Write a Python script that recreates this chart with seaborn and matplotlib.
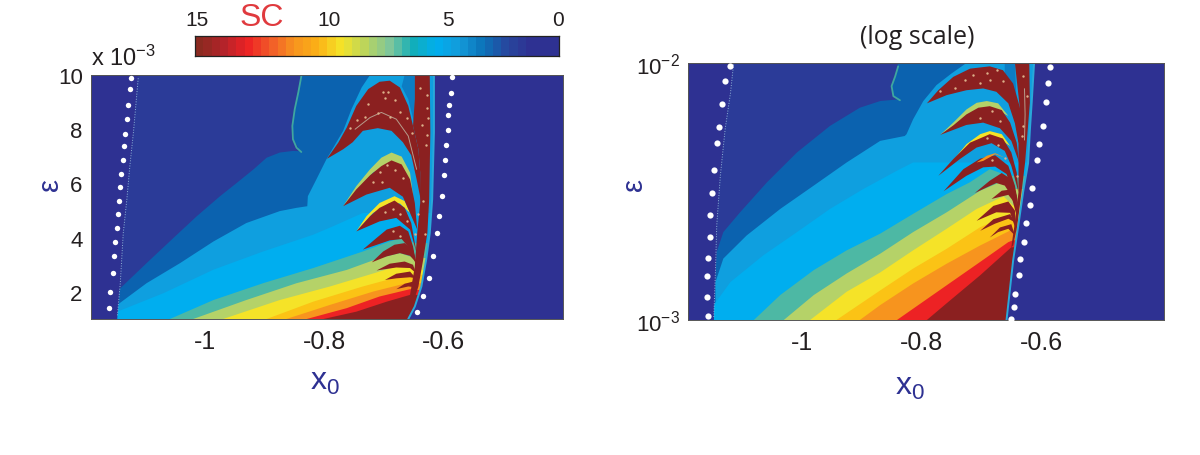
import matplotlib

matplotlib.use("Agg")
import matplotlib.pyplot as plt
import pandas as pd
import seaborn as sns
from matplotlib.colors import ListedColormap
from matplotlib.patches import Polygon

# Left panel: borders of the spike-count regions, (x0, eps in units of 1e-3)
L_INSIDE = [(-1.111, 10), (-1.119, 7.88), (-1.125, 6.64), (-1.130, 5.41), (-1.136, 4.17), (-1.141, 2.32),
            (-1.146, 1), (-0.659, 1), (-0.648, 1.46), (-0.637, 2.2), (-0.629, 3.19), (-0.623, 4.17),
            (-0.619, 5.41), (-0.616, 7.88), (-0.616, 10)]
L_RIM = L_INSIDE[7:]
L_SC2 = [(-1.146, 1), (-1.144, 2.07), (-1.097, 3.06), (-1.052, 3.99), (-1.013, 4.79), (-0.974, 5.53), (-0.946, 6.02),
         (-0.918, 6.52), (-0.896, 6.95), (-0.874, 7.14), (-0.852, 7.2), (-0.840, 7.19), (-0.850, 7.57),
         (-0.853, 8.12), (-0.846, 9.11), (-0.838, 10)]
L_SC3 = [(-1.146, 1.52), (-1.097, 2.32), (-1.041, 3.06), (-0.985, 3.86), (-0.930, 4.54), (-0.874, 4.98), (-0.846, 5.10),
         (-0.828, 5.16), (-0.827, 5.53), (-0.813, 6.14), (-0.796, 6.89), (-0.768, 7.94), (-0.754, 8.74),
         (-0.737, 9.54), (-0.723, 10)]
L_SC4 = [(-1.146, 1.27), (-1.069, 1.95), (-0.985, 2.82), (-0.902, 3.49), (-0.818, 4.11), (-0.785, 4.42), (-0.735, 4.91)]
L_SC6 = [(-1.058, 1), (-0.985, 1.70), (-0.902, 2.32), (-0.818, 2.88), (-0.735, 3.49), (-0.690, 3.86), (-0.670, 3.99),
         (-0.648, 3.80)]
L_SC8 = [(-1.019, 1), (-0.930, 1.70), (-0.846, 2.32), (-0.762, 2.81), (-0.707, 3.25), (-0.673, 3.43), (-0.648, 3.25)]
L_SC9 = [(-0.969, 1), (-0.874, 1.70), (-0.790, 2.20), (-0.707, 2.75), (-0.668, 3.0), (-0.645, 2.81)]
L_SC10 = [(-0.896, 1), (-0.818, 1.64), (-0.735, 2.20), (-0.673, 2.57), (-0.645, 2.63)]
L_SC11 = [(-0.863, 1), (-0.790, 1.52), (-0.718, 2.01), (-0.662, 2.32), (-0.645, 2.32)]
L_SC13 = [(-0.829, 1), (-0.762, 1.40), (-0.707, 1.83), (-0.656, 2.10), (-0.645, 2.07)]
L_SC15 = [(-0.801, 1), (-0.746, 1.27), (-0.695, 1.64), (-0.656, 1.89), (-0.645, 1.89)]
L_WEDGE = [(-0.665, 10), (-0.648, 10), (-0.648, 8.12), (-0.659, 9.11), (-0.670, 9.58)]
L_F1 = [(-0.795, 6.91), (-0.776, 7.51), (-0.762, 8.06), (-0.746, 8.86), (-0.726, 9.48), (-0.707, 9.75), (-0.690, 9.79),
        (-0.673, 9.54), (-0.659, 8.86), (-0.651, 8.12), (-0.642, 7.26), (-0.639, 6.40), (-0.637, 5.28),
        (-0.645, 6.15), (-0.654, 7.04), (-0.668, 7.52), (-0.687, 7.94), (-0.710, 8.04), (-0.735, 7.94),
        (-0.752, 7.52), (-0.768, 7.26)]
L_F2_RIM = [(-0.768, 5.16), (-0.746, 5.90), (-0.723, 6.52), (-0.704, 6.95), (-0.687, 7.14), (-0.670, 6.99), (-0.656, 6.40),
            (-0.651, 5.53), (-0.673, 6.64), (-0.687, 6.77), (-0.718, 6.40)]
L_F2 = [(-0.768, 5.16), (-0.746, 5.78), (-0.723, 6.30), (-0.704, 6.64), (-0.687, 6.85), (-0.670, 6.70), (-0.656, 6.15),
        (-0.648, 5.28), (-0.644, 4.30), (-0.656, 4.91), (-0.668, 5.51), (-0.690, 5.84), (-0.729, 5.59)]
L_F3_RIM = [(-0.746, 4.23), (-0.729, 4.79), (-0.707, 5.28), (-0.682, 5.53), (-0.665, 5.35), (-0.656, 4.91), (-0.673, 5.26),
            (-0.690, 5.28), (-0.718, 4.91)]
L_F3 = [(-0.746, 4.23), (-0.723, 4.79), (-0.707, 5.10), (-0.682, 5.37), (-0.665, 5.10), (-0.654, 4.54), (-0.645, 3.43),
        (-0.656, 4.30), (-0.679, 4.73), (-0.707, 4.60)]
L_F4 = [(-0.735, 3.56), (-0.712, 3.99), (-0.695, 4.30), (-0.673, 4.44), (-0.659, 4.23), (-0.651, 3.68), (-0.645, 2.94),
        (-0.656, 3.58), (-0.670, 3.95), (-0.690, 3.90)]
L_F5 = [(-0.720, 3.09), (-0.701, 3.49), (-0.682, 3.74), (-0.665, 3.80), (-0.651, 3.56), (-0.645, 3.06), (-0.656, 3.33),
        (-0.673, 3.43), (-0.695, 3.31)]
L_F6 = [(-0.712, 2.79), (-0.690, 3.04), (-0.665, 3.12), (-0.651, 3.0), (-0.646, 2.69), (-0.656, 2.88), (-0.679, 2.90)]
L_F7 = [(-0.698, 2.44), (-0.679, 2.67), (-0.656, 2.75), (-0.646, 2.50), (-0.656, 2.54), (-0.679, 2.50)]
L_F8 = [(-0.679, 2.10), (-0.665, 2.30), (-0.651, 2.38), (-0.645, 2.17), (-0.659, 2.20)]
L_COLUMN = [(-0.648, 10), (-0.623, 10), (-0.622, 7.88), (-0.624, 5.41), (-0.627, 4.17), (-0.634, 3.19), (-0.642, 2.20),
            (-0.651, 1.58), (-0.656, 1.89), (-0.648, 2.94), (-0.644, 4.17), (-0.639, 5.28), (-0.639, 6.40),
            (-0.642, 7.26), (-0.651, 8.12), (-0.648, 9.11)]
L_SEAM = [(-0.748, 8.0), (-0.723, 8.43), (-0.704, 8.62), (-0.679, 8.37), (-0.659, 7.75), (-0.645, 6.52)]
L_EDGE = [(-1.111, 9.88), (-1.119, 7.88), (-1.125, 6.64), (-1.130, 5.41), (-1.136, 4.17), (-1.141, 2.32), (-1.146, 1.09)]
L_ARC = [(-0.838, 9.95), (-0.843, 9.36), (-0.849, 8.74), (-0.853, 8.12), (-0.852, 7.63), (-0.846, 7.32), (-0.838, 7.16)]
L_SPECKS = [(-0.701, 9.37), (-0.693, 9.37), (-0.698, 9.15), (-0.681, 9.08), (-0.726, 8.93), (-0.731, 8.45), (-0.745, 8.34),
            (-0.756, 8.04), (-0.673, 8.63), (-0.661, 8.41), (-0.690, 8.45), (-0.710, 8.6), (-0.653, 7.86), (-0.694, 6.68),
            (-0.681, 6.49), (-0.706, 6.42), (-0.668, 6.2), (-0.718, 6.05), (-0.703, 6.05), (-0.628, 9.26), (-0.628, 8.78),
            (-0.626, 8.41), (-0.628, 7.79), (-0.629, 7.42), (-0.639, 9.52), (-0.636, 8.15), (-0.684, 5.06), (-0.698, 4.95),
            (-0.673, 4.87), (-0.661, 4.61), (-0.684, 4.24), (-0.673, 4.06), (-0.648, 4.13), (-0.643, 4.87), (-0.631, 4.13),
            (-0.634, 5.35)]

# Right panel: same borders, (x0, log10 eps)
R_INSIDE = [(-1.114, -2), (-1.119, -2.116), (-1.128, -2.258), (-1.136, -2.439), (-1.142, -2.632), (-1.144, -2.8),
            (-1.147, -3), (-0.658, -3), (-0.647, -2.769), (-0.638, -2.627), (-0.630, -2.498), (-0.622, -2.39),
            (-0.619, -2.261), (-0.616, -2.155), (-0.612, -2)]
R_RIM = R_INSIDE[7:]
R_SC2 = [(-1.147, -3), (-1.144, -2.826), (-1.142, -2.735), (-1.131, -2.658), (-1.103, -2.581), (-1.058, -2.464),
         (-1.008, -2.348), (-0.953, -2.245), (-0.903, -2.174), (-0.869, -2.148), (-0.841, -2.142), (-0.836, -2.145),
         (-0.847, -2.129), (-0.850, -2.09), (-0.844, -2.052), (-0.839, -2)]
R_SC3 = [(-1.144, -2.852), (-1.131, -2.761), (-1.092, -2.671), (-1.036, -2.568), (-0.980, -2.477), (-0.925, -2.387),
         (-0.869, -2.303), (-0.828, -2.284), (-0.825, -2.277), (-0.814, -2.219), (-0.797, -2.148), (-0.775, -2.086),
         (-0.750, -2.041), (-0.725, -2)]
R_SC4 = [(-1.147, -2.942), (-1.119, -2.852), (-1.064, -2.748), (-1.008, -2.658), (-0.953, -2.568), (-0.897, -2.49),
         (-0.841, -2.419), (-0.814, -2.387), (-0.725, -2.387)]
R_SC6 = [(-1.080, -3), (-1.036, -2.903), (-0.980, -2.806), (-0.925, -2.729), (-0.869, -2.664), (-0.814, -2.587),
         (-0.758, -2.51), (-0.719, -2.464), (-0.686, -2.413), (-0.655, -2.439)]
R_SC8 = [(-1.030, -3), (-0.980, -2.903), (-0.925, -2.819), (-0.869, -2.742), (-0.814, -2.658), (-0.758, -2.581),
         (-0.702, -2.497), (-0.669, -2.464), (-0.647, -2.49)]
R_SC9 = [(-0.986, -3), (-0.925, -2.89), (-0.869, -2.815), (-0.814, -2.729), (-0.758, -2.645), (-0.708, -2.568),
         (-0.663, -2.519), (-0.647, -2.555)]
R_SC10 = [(-0.942, -3), (-0.869, -2.885), (-0.814, -2.8), (-0.758, -2.723), (-0.702, -2.639), (-0.658, -2.594),
          (-0.647, -2.606)]
R_SC11 = [(-0.903, -3), (-0.869, -2.942), (-0.814, -2.858), (-0.758, -2.781), (-0.702, -2.71), (-0.652, -2.652)]
R_SC13 = [(-0.841, -3), (-0.758, -2.865), (-0.702, -2.774), (-0.655, -2.697), (-0.647, -2.69)]
R_SC15 = [(-0.791, -3), (-0.758, -2.935), (-0.702, -2.826), (-0.650, -2.717)]
R_WEDGE = [(-0.661, -2), (-0.644, -2), (-0.641, -2.168), (-0.650, -2.11), (-0.661, -2.045)]
R_F1 = [(-0.791, -2.157), (-0.772, -2.106), (-0.747, -2.054), (-0.719, -2.022), (-0.686, -2.013), (-0.664, -2.028),
        (-0.647, -2.08), (-0.636, -2.17), (-0.630, -2.261), (-0.638, -2.312), (-0.644, -2.235), (-0.655, -2.157),
        (-0.675, -2.112), (-0.697, -2.099), (-0.725, -2.106), (-0.758, -2.125)]
R_F2_RIM = [(-0.769, -2.28), (-0.747, -2.232), (-0.725, -2.181), (-0.708, -2.155), (-0.691, -2.148), (-0.672, -2.157),
            (-0.655, -2.206), (-0.675, -2.181), (-0.691, -2.171), (-0.714, -2.194)]
R_F2 = [(-0.769, -2.28), (-0.747, -2.243), (-0.725, -2.2), (-0.705, -2.174), (-0.686, -2.168), (-0.666, -2.183),
        (-0.652, -2.232), (-0.641, -2.31), (-0.637, -2.387), (-0.650, -2.303), (-0.669, -2.254), (-0.697, -2.232),
        (-0.725, -2.241)]
R_F3_RIM = [(-0.750, -2.387), (-0.725, -2.316), (-0.702, -2.277), (-0.686, -2.265), (-0.666, -2.277), (-0.652, -2.323),
            (-0.669, -2.297), (-0.686, -2.284), (-0.714, -2.316)]
R_F3 = [(-0.772, -2.439), (-0.747, -2.374), (-0.719, -2.31), (-0.686, -2.277), (-0.664, -2.294), (-0.650, -2.348),
        (-0.641, -2.426), (-0.638, -2.503), (-0.650, -2.4), (-0.661, -2.342), (-0.683, -2.312), (-0.708, -2.329),
        (-0.736, -2.374)]
R_F4_RIM = [(-0.708, -2.387), (-0.691, -2.361), (-0.677, -2.351), (-0.661, -2.368), (-0.677, -2.355), (-0.697, -2.381)]
R_F4 = [(-0.763, -2.499), (-0.730, -2.413), (-0.702, -2.372), (-0.677, -2.359), (-0.655, -2.4), (-0.644, -2.477),
        (-0.637, -2.568), (-0.647, -2.503), (-0.658, -2.432), (-0.677, -2.403), (-0.697, -2.406), (-0.725, -2.439)]
R_F5 = [(-0.711, -2.506), (-0.686, -2.458), (-0.666, -2.428), (-0.650, -2.452), (-0.641, -2.516), (-0.640, -2.606),
        (-0.650, -2.516), (-0.661, -2.477), (-0.675, -2.467), (-0.691, -2.484)]
R_F5B = [(-0.683, -2.529), (-0.666, -2.497), (-0.644, -2.49), (-0.641, -2.555), (-0.655, -2.513)]
R_F6 = [(-0.708, -2.614), (-0.680, -2.556), (-0.655, -2.539), (-0.644, -2.574), (-0.641, -2.658), (-0.652, -2.583),
        (-0.675, -2.581)]
R_F7 = [(-0.702, -2.653), (-0.680, -2.608), (-0.652, -2.588), (-0.644, -2.62), (-0.655, -2.606), (-0.677, -2.625)]
R_F8 = [(-0.686, -2.679), (-0.669, -2.64), (-0.650, -2.627), (-0.644, -2.671), (-0.655, -2.645), (-0.672, -2.658)]
R_COLUMN = [(-0.644, -2), (-0.620, -2), (-0.619, -2.155), (-0.623, -2.271), (-0.627, -2.387), (-0.633, -2.503),
            (-0.640, -2.632), (-0.647, -2.71), (-0.650, -2.717), (-0.644, -2.619), (-0.638, -2.503), (-0.638, -2.312),
            (-0.636, -2.17), (-0.641, -2.065)]
R_SEAM = [(-0.628, -2.10), (-0.627, -2.2), (-0.628, -2.3)]
R_EDGE = [(-1.114, -2.006), (-1.119, -2.116), (-1.128, -2.258), (-1.136, -2.439), (-1.142, -2.632), (-1.144, -2.8),
          (-1.147, -2.994)]
R_ARC = [(-0.839, -2.013), (-0.844, -2.052), (-0.850, -2.09), (-0.847, -2.129), (-0.836, -2.145)]
R_SPECKS = [(-0.714, -2.047), (-0.691, -2.039), (-0.674, -2.027), (-0.727, -2.066), (-0.744, -2.097), (-0.686, -2.066),
            (-0.702, -2.078), (-0.664, -2.07), (-0.769, -2.109), (-0.631, -2.05), (-0.624, -2.128), (-0.631, -2.245),
            (-0.632, -2.284), (-0.682, -2.187), (-0.702, -2.214), (-0.669, -2.226), (-0.691, -2.292), (-0.672, -2.319),
            (-0.682, -2.377), (-0.661, -2.37), (-0.641, -2.44)]

LEVEL_COLORS = [
    "#2E3192", "#2B3B98", "#0B62AF", "#0F9FDF", "#00AEEF", "#0C7DC4",
    "#4DB8A4", "#86C58A", "#B5D268", "#F5E328", "#FBC315", "#F7941E",
    "#F15A29", "#ED2224", "#BE2026", "#8B2020",
]
CBAR_COLORS = [
    "#8B2A20", "#B4232A", "#ED2224", "#F15A29", "#F7941E", "#FBB016",
    "#F5E428", "#BDD55A", "#7FC69A", "#12AEB8", "#00AEEF", "#149AD9",
    "#0B72B8", "#27479E", "#2E3192", "#2E3192",
]
CBAR_TICKS = ["15", "10", "5", "0"]

# white dots
L_DOTS_X = [-1.123, -1.125, -1.128, -1.130, -1.133, -1.135, -1.137, -1.139, -1.141,
            -1.143, -1.145, -1.147, -1.149, -1.152, -1.154, -1.158, -1.160,
            -0.586, -0.588, -0.590, -0.592, -0.593, -0.596, -0.597, -0.599,
            -0.602, -0.607, -0.611, -0.617, -0.625, -0.634, -0.645]
L_DOTS_Y = [9.90, 9.48, 8.91, 8.37, 7.83, 7.37, 6.86, 6.33, 5.86,
            5.37, 4.86, 4.36, 3.85, 3.33, 2.70, 2.01, 1.42,
            9.93, 9.35, 8.91, 8.53, 7.96, 7.40, 6.86, 6.32,
            5.54, 4.81, 4.17, 3.32, 2.53, 1.86, 1.27]
R_DOTS_X = [-1.120, -1.128, -1.134, -1.138, -1.142, -1.147, -1.150, -1.153, -1.154,
            -1.157, -1.158, -1.158, -1.157,
            -0.585, -0.588, -0.592, -0.597, -0.604, -0.607, -0.615, -0.619,
            -0.626, -0.628, -0.635, -0.638, -0.644, -0.645, -0.650]
R_DOTS_Y = [9.76, 8.49, 6.92, 5.64, 4.89, 3.82, 3.11, 2.57, 2.10,
            1.75, 1.48, 1.23, 1.04,
            9.65, 8.37, 7.02, 5.67, 4.82, 4.19, 3.26, 2.79,
            2.38, 2.02, 1.72, 1.49, 1.26, 1.12, 1.01]

X_TICKS = [-1, -0.8, -0.6]
X_LABELS = ["-1", "-0.8", "-0.6"]
L_Y_TICKS = [2, 4, 6, 8, 10]

W, H = 1200, 456
TEXT = "#231F20"
AXIS_BLUE = "#2E3192"

sns.set_style("white")
plt.rcParams["font.family"] = ["Liberation Sans", "DejaVu Sans"]
plt.rcParams["mathtext.default"] = "regular"


def px_rect(x0, y0, x1, y1):
    return [x0 / W, 1 - y1 / H, (x1 - x0) / W, (y1 - y0) / H]


def split(points, to_y):
    return [p[0] for p in points], [to_y(p[1]) for p in points]


def panel(rect, xlim, ylim, yscale, to_y, inside, bands, lobes, rim, edge, arc, seams, specks, dots_x, dots_y, dot_size):
    ax = fig.add_axes(rect)
    ax.set_yscale(yscale)
    ax.set_xlim(*xlim)
    ax.set_ylim(*ylim)
    ax.set_facecolor(LEVEL_COLORS[0])
    ax.grid(False)

    x, y = split(inside, to_y)
    clip = Polygon(list(zip(x, y)), closed=True, transform=ax.transData, fc=LEVEL_COLORS[1], lw=0)
    ax.add_patch(clip)

    # bands are filled from their top border down to the bottom of the panel
    for level, points in bands:
        x, y = split(points, to_y)
        top = ylim[1] if level in (2, 3) else y[-1]
        x = x + [xlim[1], xlim[1], x[0]]
        y = y + [top, ylim[0], ylim[0]]
        for patch in ax.fill(x, y, color=LEVEL_COLORS[level], lw=0):
            patch.set_clip_path(clip)

    for level, points in lobes:
        x, y = split(points, to_y)
        for patch in ax.fill(x, y, color=LEVEL_COLORS[level], lw=0):
            patch.set_clip_path(clip)

    for points in seams:
        x, y = split(points, to_y)
        sns.lineplot(x=x, y=y, ax=ax, color="#B79C8C", lw=0.7, sort=False, estimator=None)

    x, y = split(specks, to_y)
    sns.scatterplot(x=x, y=y, ax=ax, color="#DDB08A", s=3, linewidth=0, zorder=4)

    x, y = split(rim, to_y)
    sns.lineplot(x=x, y=y, ax=ax, color="#2AA8D8", lw=1.4, sort=False, estimator=None)
    x, y = split(edge, to_y)
    sns.lineplot(x=x, y=y, ax=ax, color="#8FB4D8", lw=0.7, ls=":", sort=False, estimator=None)
    x, y = split(arc, to_y)
    sns.lineplot(x=x, y=y, ax=ax, color="#3FA7A0", lw=1.3, sort=False, estimator=None)

    sns.scatterplot(x=dots_x, y=dots_y, ax=ax, color="white", s=dot_size, linewidth=0,
                    clip_on=False, zorder=5)

    ax.set_xlim(*xlim)
    ax.set_ylim(*ylim)
    ax.set_xticks(X_TICKS)
    ax.set_xticklabels(X_LABELS)
    ax.tick_params(axis="x", length=0, labelsize=18, colors=TEXT, pad=7)
    ax.tick_params(axis="y", length=0, labelsize=16, colors=TEXT, pad=6)
    ax.minorticks_off()
    for spine in ax.spines.values():
        spine.set_linewidth(0.7)
        spine.set_color("#555555")
    return ax


fig = plt.figure(figsize=(W / 100, H / 100), dpi=100)

ax1 = panel(px_rect(91, 76, 563, 320), (-1.19, -0.40), (1, 10), "linear", lambda v: v, L_INSIDE,
            [(2, L_SC2), (3, L_SC3), (4, L_SC4), (6, L_SC6), (8, L_SC8), (9, L_SC9),
             (10, L_SC10), (11, L_SC11), (13, L_SC13), (15, L_SC15)],
            [(5, L_WEDGE), (8, L_F2_RIM), (9, L_F3_RIM), (15, L_F1), (15, L_F2), (15, L_F3), (15, L_F4),
             (15, L_F5), (15, L_F6), (15, L_F7), (15, L_F8), (15, L_COLUMN)],
            L_RIM, L_EDGE, L_ARC, [L_SEAM], L_SPECKS, L_DOTS_X, L_DOTS_Y, 15)
ax1.set_yticks(L_Y_TICKS)
ax1.set_yticklabels([str(t) for t in L_Y_TICKS])

ax2 = panel(px_rect(688, 64, 1164, 321), (-1.19, -0.395), (1e-3, 1e-2), "log", lambda v: 10 ** v, R_INSIDE,
            [(2, R_SC2), (3, R_SC3), (4, R_SC4), (6, R_SC6), (8, R_SC8), (9, R_SC9),
             (10, R_SC10), (11, R_SC11), (13, R_SC13), (15, R_SC15)],
            [(5, R_WEDGE), (8, R_F2_RIM), (9, R_F3_RIM), (15, R_F1), (15, R_F2), (15, R_F3), (15, R_F4),
             (11, R_F4_RIM), (15, R_F5), (15, R_F5B), (15, R_F6), (15, R_F7), (15, R_F8), (15, R_COLUMN)],
            R_RIM, R_EDGE, R_ARC, [R_SEAM], R_SPECKS, R_DOTS_X, [y * 1e-3 for y in R_DOTS_Y], 20)
ax2.set_yticks([1e-3, 1e-2])
ax2.set_yticklabels([r"$10^{-3}$", r"$10^{-2}$"])
ax2.minorticks_off()

# colour bar along the top of the left panel
cax = fig.add_axes(px_rect(195, 37, 559, 57))
bar_colors = sns.blend_palette(CBAR_COLORS, n_colors=44)
sns.heatmap(pd.DataFrame([list(range(44))]), ax=cax, cmap=ListedColormap(bar_colors),
            cbar=False, xticklabels=False, yticklabels=False)
for spine in cax.spines.values():
    spine.set_visible(True)
    spine.set_linewidth(0.9)
    spine.set_color("#222222")

for label, px in zip(CBAR_TICKS, [197, 329, 448, 558]):
    fig.text(px / W, 1 - 20 / H, label, ha="center", va="center", fontsize=15, color=TEXT)
fig.text(262 / W, 1 - 18 / H, "SC", ha="center", va="center", fontsize=23, color="#E03A3E")
fig.text(91 / W, 1 - 58 / H, r"x 10$^{-3}$", ha="left", va="center", fontsize=17, color=TEXT)
fig.text(917 / W, 1 - 38 / H, "(log scale)", ha="center", va="center", fontsize=18,
         color=TEXT, family=["Open Sans", "DejaVu Sans"])

fig.text(50 / W, 1 - 185 / H, "ε", rotation=90, ha="center", va="center", fontsize=21, color=AXIS_BLUE)
fig.text(634 / W, 1 - 185 / H, "ε", rotation=90, ha="center", va="center", fontsize=21, color=AXIS_BLUE)
fig.text(325 / W, 1 - 382 / H, r"x$_{0}$", ha="center", va="center", fontsize=23, color=AXIS_BLUE)
fig.text(910 / W, 1 - 387 / H, r"x$_{0}$", ha="center", va="center", fontsize=23, color=AXIS_BLUE)

plt.savefig("out.png", dpi=100)
plt.close()
